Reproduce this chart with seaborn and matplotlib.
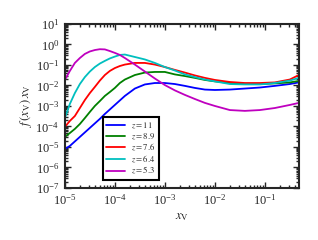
import numpy as np
import pandas as pd
import matplotlib
matplotlib.use('Agg')
import matplotlib.pyplot as plt
import seaborn as sns

# x positions (log10 x_V) at which the curves were read
log_x = [-5.0, -4.9, -4.8, -4.7, -4.6, -4.5, -4.4, -4.3, -4.2, -4.1,
         -4.0, -3.9, -3.8, -3.6, -3.4, -3.2, -3.0, -2.8, -2.6, -2.4,
         -2.2, -2.0, -1.7, -1.4, -1.1, -0.8, -0.5, -0.32]

# log10 of f(x_V) x_V for each redshift
z11 = [-5.10, -4.95, -4.73, -4.51, -4.29, -4.07, -3.85, -3.63, -3.39, -3.17,
       -2.95, -2.73, -2.51, -2.15, -1.95, -1.88, -1.88, -1.93, -2.02, -2.12,
       -2.20, -2.22, -2.20, -2.15, -2.10, -2.02, -1.93, -1.85]
z89 = [-4.51, -4.32, -4.12, -3.88, -3.59, -3.29, -3.00, -2.76, -2.51, -2.32,
       -2.12, -1.88, -1.71, -1.49, -1.37, -1.34, -1.34, -1.46, -1.54, -1.63,
       -1.73, -1.80, -1.88, -1.93, -1.93, -1.90, -1.85, -1.78]
z76 = [-4.02, -3.73, -3.49, -3.10, -2.71, -2.37, -2.07, -1.76, -1.49, -1.29,
       -1.15, -1.05, -0.98, -0.90, -0.90, -0.98, -1.10, -1.24, -1.37, -1.51,
       -1.63, -1.73, -1.83, -1.88, -1.88, -1.85, -1.71, -1.49]
z64 = [-3.59, -2.90, -2.37, -1.93, -1.59, -1.32, -1.10, -0.93, -0.80, -0.68,
       -0.59, -0.51, -0.49, -0.61, -0.73, -0.90, -1.10, -1.27, -1.46, -1.59,
       -1.71, -1.80, -1.93, -1.95, -1.95, -1.88, -1.76, -1.63]
z53 = [-1.73, -1.29, -0.90, -0.66, -0.46, -0.34, -0.27, -0.23, -0.24, -0.32,
       -0.41, -0.51, -0.66, -0.98, -1.32, -1.66, -1.98, -2.24, -2.46, -2.66,
       -2.85, -3.00, -3.20, -3.24, -3.20, -3.10, -2.95, -2.85]

labels = ['$z = 11$', '$z = 8.9$', '$z = 7.6$', '$z = 6.4$', '$z = 5.3$']
colors = ['#0000ff', '#008000', '#ff0000', '#00bfbf', '#bf00bf']

frames = []
for lab, vals in zip(labels, [z11, z89, z76, z64, z53]):
    frames.append(pd.DataFrame({'x': 10.0 ** np.array(log_x),
                                'y': 10.0 ** np.array(vals),
                                'z': lab}))
df = pd.concat(frames, ignore_index=True)

sns.set_style('ticks')
plt.rcParams['font.family'] = ['Liberation Serif', 'DejaVu Serif']
plt.rcParams['mathtext.fontset'] = 'stix'
plt.rcParams['axes.linewidth'] = 1.5

fig = plt.figure(figsize=(3.18, 2.4), dpi=100)
ax = fig.add_axes([0.204, 0.217, 0.736, 0.683])

sns.lineplot(data=df, x='x', y='y', hue='z', hue_order=labels,
             palette=colors, linewidth=1.3, ax=ax)

ax.set_xscale('log')
ax.set_yscale('log')
ax.set_xlim(1e-5, 0.48)
ax.set_ylim(1e-7, 1e1)
ax.set_yticks([10.0 ** k for k in range(-7, 2)])
ax.tick_params(which='both', direction='in', top=True, right=True,
               labelsize=9, width=1.0)
ax.tick_params(which='major', length=4, pad=4)
ax.tick_params(which='minor', length=2)
ax.yaxis.set_minor_locator(matplotlib.ticker.LogLocator(base=10, subs=np.arange(2, 10), numticks=20))
ax.xaxis.set_minor_locator(matplotlib.ticker.LogLocator(base=10, subs=np.arange(2, 10), numticks=20))

ax.set_xlabel(r'$x_{\rm V}$', fontsize=9, labelpad=2)
ax.set_ylabel(r'$f\,(x_{\rm V})\,x_{\rm V}$', fontsize=9, labelpad=1)

leg = ax.legend(loc='lower left', bbox_to_anchor=(0.162, 0.049),
                borderaxespad=0, fontsize=6.3, fancybox=False,
                edgecolor='black', framealpha=1, handlelength=2.1,
                handletextpad=0.7, labelspacing=0.05, borderpad=0.4)
leg.get_frame().set_linewidth(1.5)

fig.savefig('out.png', dpi=100)
